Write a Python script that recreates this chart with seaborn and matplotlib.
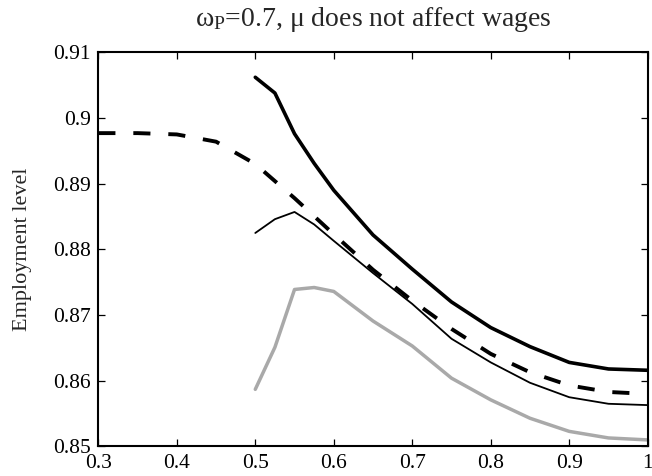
import matplotlib
matplotlib.use("Agg")
import matplotlib.pyplot as plt
import seaborn as sns
import pandas as pd

# Productivity grid and employment levels for each scenario
mu_grid = [0.5, 0.525, 0.55, 0.575, 0.6, 0.65, 0.7, 0.75, 0.8, 0.85, 0.9, 0.95, 1.0]
mu_grid_long = [0.3, 0.35, 0.4, 0.45, 0.5, 0.55, 0.6, 0.65, 0.7, 0.75, 0.8, 0.85, 0.9, 0.95, 1.0]

emp_thick = [0.9062, 0.9038, 0.8976, 0.8931, 0.8890, 0.8822, 0.8770, 0.8720,
             0.8681, 0.8652, 0.8628, 0.8618, 0.8616]
emp_dashed = [0.8977, 0.8977, 0.8975, 0.8964, 0.8930, 0.8878, 0.8823, 0.8769,
              0.8722, 0.8679, 0.8641, 0.8613, 0.8593, 0.8583, 0.8580]
emp_thin = [0.8825, 0.8846, 0.8857, 0.8838, 0.8813, 0.8764, 0.8717, 0.8664,
            0.8628, 0.8597, 0.8575, 0.8565, 0.8563]
emp_gray = [0.8587, 0.8651, 0.8739, 0.8742, 0.8736, 0.8691, 0.8653, 0.8604,
            0.8571, 0.8543, 0.8523, 0.8513, 0.8510]

x_ticks = [0.3, 0.4, 0.5, 0.6, 0.7, 0.8, 0.9, 1.0]
x_tick_labels = ["0.3", "0.4", "0.5", "0.6", "0.7", "0.8", "0.9", "1"]
y_ticks = [0.85, 0.86, 0.87, 0.88, 0.89, 0.90, 0.91]
y_tick_labels = ["0.85", "0.86", "0.87", "0.88", "0.89", "0.9", "0.91"]

sns.set_style("ticks")
plt.rcParams["font.family"] = ["Liberation Serif", "DejaVu Serif"]
plt.rcParams["mathtext.fontset"] = "custom"
plt.rcParams["mathtext.rm"] = "Liberation Serif"
plt.rcParams["mathtext.it"] = "Liberation Serif:italic"
plt.rcParams["mathtext.bf"] = "Liberation Serif:bold"

fig = plt.figure(figsize=(6.52, 4.76), dpi=100)
ax = fig.add_axes([0.1508, 0.0620, 0.8426, 0.8281])

df_thick = pd.DataFrame({"mu": mu_grid, "emp": emp_thick})
df_dashed = pd.DataFrame({"mu": mu_grid_long, "emp": emp_dashed})
df_thin = pd.DataFrame({"mu": mu_grid, "emp": emp_thin})
df_gray = pd.DataFrame({"mu": mu_grid, "emp": emp_gray})

sns.lineplot(data=df_gray, x="mu", y="emp", ax=ax, color="#a9a9a9", linewidth=2.5,
             estimator=None, sort=True)
sns.lineplot(data=df_thin, x="mu", y="emp", ax=ax, color="black", linewidth=1.3,
             estimator=None, sort=True)
sns.lineplot(data=df_dashed, x="mu", y="emp", ax=ax, color="black", linewidth=2.8,
             linestyle=(0, (4.4, 4.6)), estimator=None, sort=True)
sns.lineplot(data=df_thick, x="mu", y="emp", ax=ax, color="black", linewidth=2.6,
             estimator=None, sort=True)

ax.set_xlim(0.3, 1.0)
ax.set_ylim(0.85, 0.91)
ax.set_xticks(x_ticks)
ax.set_xticklabels(x_tick_labels)
ax.set_yticks(y_ticks)
ax.set_yticklabels(y_tick_labels)

ax.tick_params(direction="in", top=True, right=True, length=5, width=0.9,
               labelsize=15.5, pad=5.5, colors="black")
for side in ["left", "right", "top", "bottom"]:
    ax.spines[side].set_visible(True)
    ax.spines[side].set_linewidth(1.5)
    ax.spines[side].set_color("black")

ax.set_xlabel("")
ax.set_ylabel("Employment level", fontsize=16, labelpad=15)
ax.set_title(r"ω$_{\mathregular{P}}$=0.7, μ does not affect wages", fontsize=20, pad=19)

fig.savefig("out.png", dpi=100)
